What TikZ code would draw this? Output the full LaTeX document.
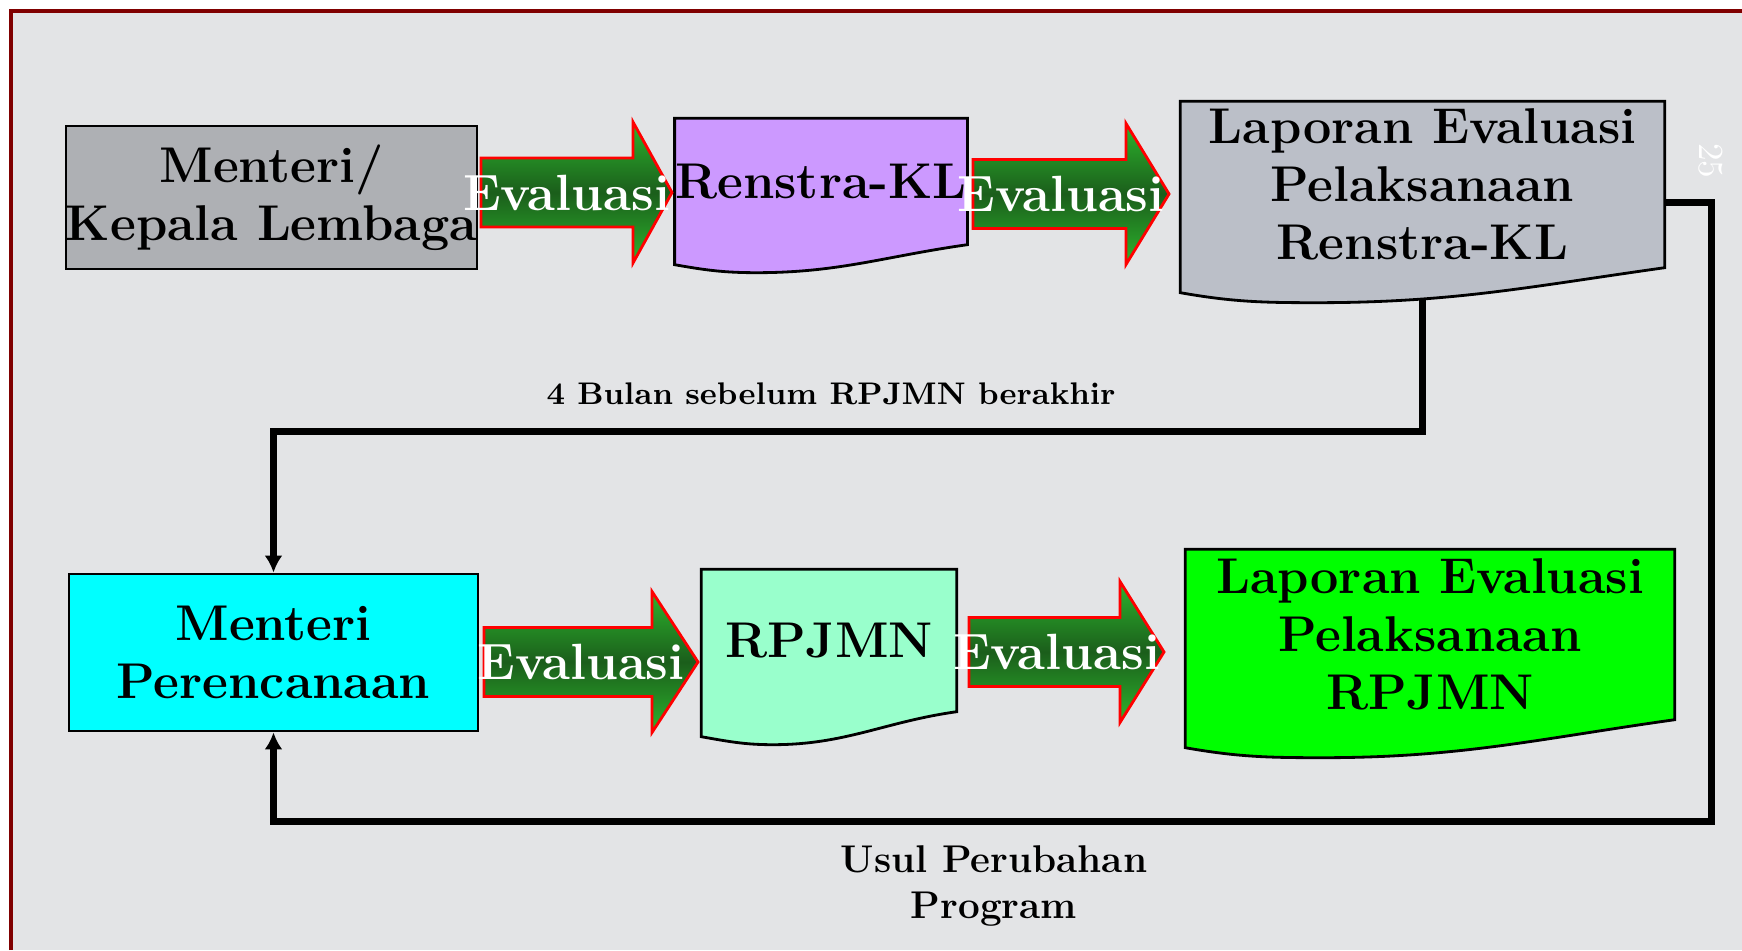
\documentclass[tikz,border=0pt]{standalone}
\usetikzlibrary{arrows.meta, backgrounds, calc}

\definecolor{slidegray}{HTML}{E3E4E6}
\definecolor{framered}{HTML}{800000}
\definecolor{menterigray}{HTML}{AEB0B4}
\definecolor{renstrapurple}{HTML}{CC99FF}
\definecolor{laporangray}{HTML}{BBBFC8}
\definecolor{perencanaancyan}{HTML}{00FFFF}
\definecolor{rpjmnmint}{HTML}{99FFCC}
\definecolor{laporangreen}{HTML}{00FF00}
\definecolor{arrowlight}{HTML}{2DB52D}
\definecolor{arrowdark}{HTML}{1B5E1B}

\newcommand{\boxfont}{\fontsize{14.3}{16.4}\selectfont\bfseries}
\newcommand{\notefont}{\fontsize{11}{13}\selectfont\bfseries}

\tikzset{%
    box/.style={draw=black, line width=0.8pt, align=center, font=\boxfont, inner sep=0pt},
    doc/.style={align=center, font=\boxfont, inner sep=0pt},
    docline/.style={draw=black, line width=0.8pt},
    evalarrow/.style={draw=red, line width=0.8pt, top color=arrowlight, bottom color=arrowlight, middle color=arrowdark},
    evaltext/.style={text=white, font=\fontsize{14.5}{16}\selectfont\bfseries},
    link/.style={line width=1.9pt, -{Latex[length=0.17cm, width=0.18cm]}},
    note/.style={align=center, font=\notefont},
}

% document outline with a wavy bottom, around node #1
\newcommand{\docshape}[4]{%
  \draw[docline, fill=#2] (#1.south east) -- (#1.north east) -- (#1.north west)
    -- ($(#1.south west)+(0,-#3)$)
    to[out=-10, in=180] ($(#1.south west)!0.28!(#1.south east)+(0,-#4)$)
    to[out=0, in=188] (#1.south east) -- cycle;
}

% green block arrow: tail x, head x, tip x, mid y, name
\newcommand{\evalarrow}[5]{%
  \shadedraw[evalarrow] (#1,#4-0.345) -- (#2,#4-0.345) -- (#2,#4-0.705) -- (#3,#4)
    -- (#2,#4+0.705) -- (#2,#4+0.345) -- (#1,#4+0.345) -- cycle;
  \node[evaltext] (#5) at ({(#1+#3)/2-0.1},#4) {Evaluasi};
}

\begin{document}
\begin{tikzpicture}
	\useasboundingbox (0,0) rectangle (17.42,9.5);

	% top row
	\node[box, fill=menterigray, minimum width=4.09cm, minimum height=1.43cm] (menteri) at (2.715,7.525) {Menteri/\\Kepala Lembaga};
	\node[doc, minimum width=2.82cm, minimum height=1.25cm] (renstra) at (8.21,7.685) {Renstra-KL};
	\node[doc, minimum width=4.83cm, minimum height=1.65cm] (lapkl) at (14.225,7.655) {Laporan Evaluasi\\Pelaksanaan\\Renstra-KL};

	% bottom row
	\node[box, fill=perencanaancyan, minimum width=4.09cm, minimum height=1.57cm] (perencanaan) at (2.735,2.975) {Menteri\\Perencanaan};
	\node[doc, minimum width=2.54cm, minimum height=1.41cm] (rpjmn) at (8.29,3.095) {RPJMN};
	\node[doc, minimum width=4.88cm, minimum height=1.69cm] (lapnas) at (14.30,3.155) {Laporan Evaluasi\\Pelaksanaan\\RPJMN};

	% evaluation arrows
	\evalarrow{4.81}{6.33}{6.72}{7.575}{ev1}
	\evalarrow{9.73}{11.26}{11.69}{7.56}{ev2}
	\evalarrow{4.84}{6.52}{6.98}{2.88}{ev3}
	\evalarrow{9.69}{11.20}{11.64}{2.98}{ev4}

	% labels
	\node[note, font=\fontsize{8.9}{11}\selectfont\bfseries] (bulan) at (8.31,5.56) {4 Bulan sebelum RPJMN berakhir};
	\node[note] (usul) at (9.94,0.64) {Usul Perubahan\\Program};
	\node[text=white, rotate=-90, font=\fontsize{10}{12}\selectfont] (slideno) at (17.11,7.89) {25};

	\begin{scope}[on background layer]
		% slide frame
		\fill[slidegray] (0.11,0) rectangle (17.42,9.39);
		\draw[framered, line width=1.4pt] (0.11,0) -- (0.11,9.39) -- (17.42,9.39);

		% feedback lines
		\draw[link] (lapkl.south) |- ([yshift=1.41cm]perencanaan.north) -- (perencanaan.north);
		\draw[link] ([yshift=-0.18cm]lapkl.east) -- ++(0.47,0) |- ([yshift=-0.89cm]perencanaan.south) -- (perencanaan.south);

		% documents
		\docshape{renstra}{renstrapurple}{0.20}{0.28}
		\docshape{lapkl}{laporangray}{0.25}{0.35}
		\docshape{rpjmn}{rpjmnmint}{0.25}{0.33}
		\docshape{lapnas}{laporangreen}{0.28}{0.38}
	\end{scope}
\end{tikzpicture}
\end{document}
